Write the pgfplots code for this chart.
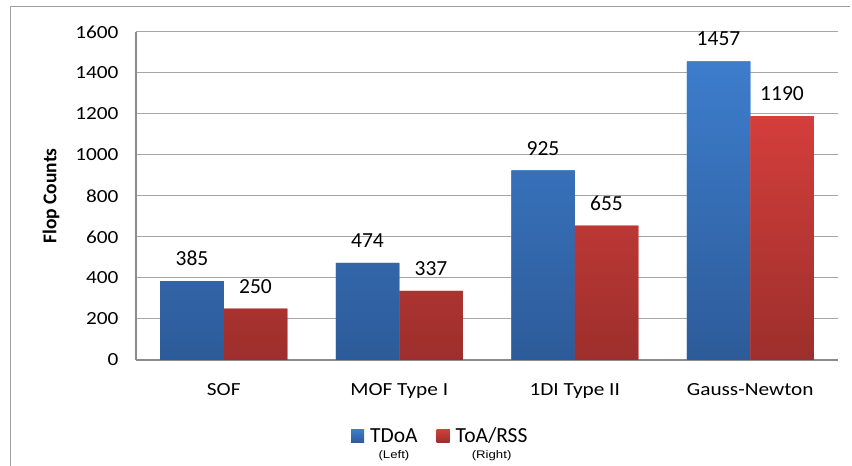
\documentclass[border=0pt]{standalone}
\usepackage{fontspec}
\setmainfont{Carlito}
\newfontfamily\axfont{Carlito}[FakeStretch=1.15]
\newfontfamily\plainfont{Carlito}
\newfontfamily\smallfont{Liberation Sans}[FakeStretch=1.2]
\usepackage{pgfplots}
\pgfplotsset{compat=1.18}
\definecolor{bluetop}{HTML}{3D7DCC}
\definecolor{bluebot}{HTML}{2D5B99}
\definecolor{redtop}{HTML}{D43E3B}
\definecolor{redbot}{HTML}{9C2F2C}
\definecolor{gridgray}{HTML}{A6A6A6}
\definecolor{axisgray}{HTML}{8C8C8C}
\definecolor{framegray}{HTML}{A0A0A0}
\begin{document}
\begin{tikzpicture}
\useasboundingbox (0,0) rectangle (852bp,466bp);
\draw[color=framegray, line width=1bp] (10bp,0) -- (10bp,459bp) -- (850bp,459bp);
\begin{axis}[
  at={(136bp,106bp)}, anchor=south west,
  scale only axis, width=702bp, height=328bp,
  /pgf/number format/.cd, 1000 sep={}, assume math mode=true, /pgfplots/.cd,
  ybar=0pt, bar width=63.5bp,
  xmin=-0.5, xmax=3.5, ymin=0, ymax=1600,
  xtick={0,1,2,3}, xticklabels={SOF,MOF Type I,1DI Type II,Gauss-Newton},
  ytick={0,200,...,1600},
  axis x line=bottom, axis y line=left,
  axis line style={-, draw=axisgray, line width=1.2bp},
  ymajorgrids, grid style={gridgray, line width=1bp},
  major tick length=0pt,
  yticklabel style={font=\axfont\fontsize{18.5bp}{20bp}\selectfont, xshift=-14bp},
  xticklabel style={font=\axfont\fontsize{18.5bp}{20bp}\selectfont, yshift=-20bp},
  ylabel={Flop Counts},
  ylabel style={font=\plainfont\bfseries\fontsize{19.5bp}{22bp}\selectfont, at={(-0.121,0.5)}, anchor=center},
  nodes near coords,
  every node near coord/.append style={font=\fontsize{21.5bp}{24bp}\selectfont, anchor=south, inner sep=0pt, yshift=15bp, text=black},
  legend columns=2,
  legend style={draw=none, fill=none, at={(0.3063,-0.1945)}, anchor=north west, inner sep=0pt,
    font=\fontsize{21.5bp}{26bp}\selectfont,
    nodes={inner sep=0pt, anchor=base west},
    /tikz/every odd column/.append style={column sep=6bp},
    /tikz/every even column/.append style={column sep=19bp}},
  legend image code/.code={\fill[#1] (0bp,0bp) rectangle (13bp,13bp);},
]
\addplot[draw=none, fill=bluetop, top color=bluetop, bottom color=bluebot] coordinates {(0,385) (1,474) (2,925) (3,1457)};
\addplot[draw=none, fill=redtop, top color=redtop, bottom color=redbot] coordinates {(0,250) (1,337) (2,655) (3,1190)};
\legend{{\begin{tabular}[t]{@{}c@{}}TDoA\\[-10bp]{\smallfont\fontsize{11bp}{12bp}\selectfont (Left)}\end{tabular}},
        {\begin{tabular}[t]{@{}c@{}}ToA/RSS\\[-10bp]{\smallfont\fontsize{11bp}{12bp}\selectfont (Right)}\end{tabular}}}
\end{axis}
\end{tikzpicture}
\end{document}
